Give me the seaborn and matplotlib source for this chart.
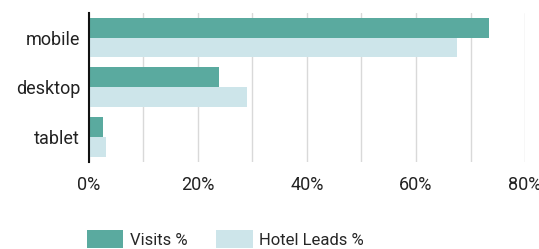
import matplotlib
matplotlib.use("Agg")
import matplotlib.pyplot as plt
import seaborn as sns
import pandas as pd
from matplotlib.patches import Patch

categories = ["mobile", "desktop", "tablet"]
visits = [73.3, 24.0, 2.6]
hotel_leads = [67.6, 29.0, 3.2]
series_names = ["Visits %", "Hotel Leads %"]
colors = ["#5aaa9f", "#cde5ea"]
xticks_major = [0, 20, 40, 60, 80]

df = pd.DataFrame({
    "device": categories * 2,
    "value": visits + hotel_leads,
    "series": [series_names[0]] * 3 + [series_names[1]] * 3,
})

sns.set_theme(style="white")
plt.rcParams["font.family"] = ["Roboto", "DejaVu Sans"]

fig = plt.figure(figsize=(5.39, 2.49), dpi=100)
ax = fig.add_axes([0.1642, 0.3506, 0.81, 0.5984])

sns.barplot(data=df, x="value", y="device", hue="series", order=categories,
            hue_order=series_names, palette=colors, orient="h", width=0.8,
            saturation=1, ax=ax, legend=False, zorder=2, linewidth=0)

ax.set_xlim(0, 80)
ax.set_ylim(2.5, -0.5)
ticks = list(range(0, 81, 10))
ax.set_xticks(ticks)
ax.set_xticklabels([f"{t}%" if t in xticks_major else "" for t in ticks])
ax.grid(axis="x", color="#d9d9d9", linewidth=1, zorder=0)
ax.set_axisbelow(True)
ax.tick_params(axis="both", length=0, labelsize=13, colors="#222222", pad=10)
ax.tick_params(axis="y", pad=6)
ax.set_xlabel("")
ax.set_ylabel("")
for s in ["top", "right", "bottom"]:
    ax.spines[s].set_visible(False)
ax.spines["left"].set_color("#111111")
ax.spines["left"].set_linewidth(1.5)

handles = [Patch(facecolor=c, edgecolor="none") for c in colors]
fig.legend(handles, series_names, loc="upper left", bbox_to_anchor=(0.161, 0.076),
           ncol=2, frameon=False, fontsize=12, handlelength=2.2, handleheight=1.3,
           columnspacing=1.7, handletextpad=0.4, borderaxespad=0, borderpad=0)

fig.savefig("out.png", dpi=100)
